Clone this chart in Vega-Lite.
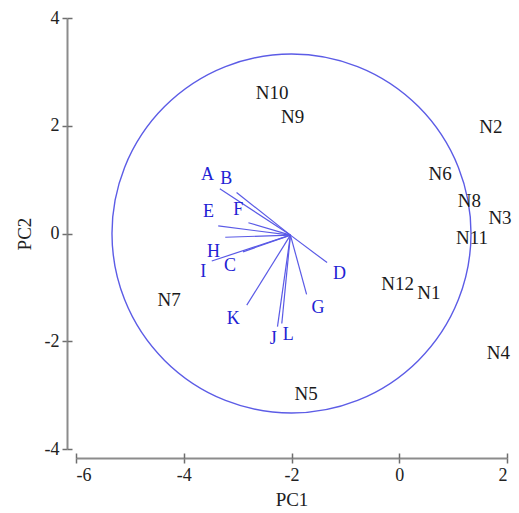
{
  "$schema": "https://vega.github.io/schema/vega-lite/v6.json",
  "width": 431,
  "height": 431,
  "autosize": "none",
  "padding": {"left": 76, "top": 18, "right": 12, "bottom": 64},
  "config": {
    "view": {"stroke": null},
    "axis": {
      "grid": false,
      "domainColor": "#8c8c8c",
      "domainWidth": 2,
      "tickColor": "#6e6e6e",
      "tickWidth": 1.5,
      "tickSize": 5,
      "labelFont": "Liberation Serif",
      "labelFontSize": 18,
      "labelColor": "#222222",
      "labelPadding": 3,
      "labelExpr": "datum.value < 0 ? '-' + abs(datum.value) : '' + datum.value",
      "titleFont": "Liberation Serif",
      "titleFontSize": 19,
      "titleFontWeight": "normal",
      "titleColor": "#222222"
    }
  },
  "datasets": {
    "center": [{"cx": -2, "cy": 0}],
    "loadings": [
      {"var": "A", "ox": -2.02, "oy": -0.03, "px": -3.33, "py": 0.83, "lx": -3.56, "ly": 1.08},
      {"var": "B", "ox": -2.02, "oy": -0.03, "px": -3.02, "py": 0.76, "lx": -3.21, "ly": 1.02},
      {"var": "E", "ox": -2.02, "oy": -0.03, "px": -3.36, "py": 0.14, "lx": -3.54, "ly": 0.40},
      {"var": "F", "ox": -2.02, "oy": -0.03, "px": -2.80, "py": 0.20, "lx": -2.99, "ly": 0.43},
      {"var": "H", "ox": -2.02, "oy": -0.03, "px": -3.23, "py": -0.07, "lx": -3.45, "ly": -0.34},
      {"var": "I", "ox": -2.02, "oy": -0.03, "px": -3.48, "py": -0.51, "lx": -3.64, "ly": -0.71},
      {"var": "C", "ox": -2.02, "oy": -0.03, "px": -2.90, "py": -0.34, "lx": -3.14, "ly": -0.61},
      {"var": "D", "ox": -2.02, "oy": -0.03, "px": -1.34, "py": -0.54, "lx": -1.11, "ly": -0.76},
      {"var": "G", "ox": -2.02, "oy": -0.03, "px": -1.72, "py": -1.13, "lx": -1.51, "ly": -1.39},
      {"var": "K", "ox": -2.02, "oy": -0.03, "px": -2.83, "py": -1.33, "lx": -3.08, "ly": -1.58},
      {"var": "J", "ox": -2.02, "oy": -0.03, "px": -2.26, "py": -1.73, "lx": -2.34, "ly": -1.95},
      {"var": "L", "ox": -2.02, "oy": -0.03, "px": -2.18, "py": -1.67, "lx": -2.06, "ly": -1.89}
    ],
    "samples": [
      {"name": "N10", "x": -2.36, "y": 2.61},
      {"name": "N9", "x": -1.98, "y": 2.17},
      {"name": "N2", "x": 1.70, "y": 1.97},
      {"name": "N6", "x": 0.76, "y": 1.10},
      {"name": "N8", "x": 1.30, "y": 0.60},
      {"name": "N3", "x": 1.87, "y": 0.28},
      {"name": "N11", "x": 1.35, "y": -0.09},
      {"name": "N12", "x": -0.03, "y": -0.93},
      {"name": "N1", "x": 0.55, "y": -1.11},
      {"name": "N4", "x": 1.84, "y": -2.22},
      {"name": "N5", "x": -1.73, "y": -2.97},
      {"name": "N7", "x": -4.27, "y": -1.23}
    ]
  },
  "resolve": {"axis": {"x": "independent", "y": "independent"}},
  "layer": [
    {
      "data": {"name": "center"},
      "mark": {"type": "point", "shape": "circle", "filled": false, "size": 128900, "stroke": "#5c5ce6", "strokeWidth": 1.4, "opacity": 1},
      "encoding": {
        "x": {"field": "cx", "type": "quantitative", "scale": {"domain": [-6, 2], "nice": false, "zero": false},
              "axis": {"orient": "bottom", "offset": 9, "values": [-6, -4, -2, 0, 2], "title": "PC1", "titlePadding": 6}},
        "y": {"field": "cy", "type": "quantitative", "scale": {"domain": [-4, 4], "nice": false, "zero": false},
              "axis": {"orient": "left", "offset": 9, "values": [-4, -2, 0, 2, 4], "title": "PC2", "titlePadding": 10}}
      }
    },
    {
      "data": {"name": "loadings"},
      "mark": {"type": "rule", "stroke": "#5a5ae6", "strokeWidth": 1.2},
      "encoding": {
        "x": {"field": "ox", "type": "quantitative", "axis": null},
        "y": {"field": "oy", "type": "quantitative", "axis": null},
        "x2": {"field": "px"},
        "y2": {"field": "py"}
      }
    },
    {
      "data": {"name": "loadings"},
      "mark": {"type": "text", "font": "Liberation Serif", "fontSize": 18, "fill": "#2222d4", "align": "center", "baseline": "middle"},
      "encoding": {
        "x": {"field": "lx", "type": "quantitative",
              "axis": {"orient": "bottom", "offset": 4, "domain": false, "labels": false, "title": null, "values": [-6, -4, -2, 0, 2]}},
        "y": {"field": "ly", "type": "quantitative",
              "axis": {"orient": "left", "offset": 4, "domain": false, "labels": false, "title": null, "values": [-4, -2, 0, 2, 4]}},
        "text": {"field": "var"}
      }
    },
    {
      "data": {"name": "samples"},
      "mark": {"type": "text", "font": "Liberation Serif", "fontSize": 19, "fill": "#1a1a1a", "align": "center", "baseline": "middle"},
      "encoding": {
        "x": {"field": "x", "type": "quantitative", "axis": null},
        "y": {"field": "y", "type": "quantitative", "axis": null},
        "text": {"field": "name"}
      }
    }
  ]
}
